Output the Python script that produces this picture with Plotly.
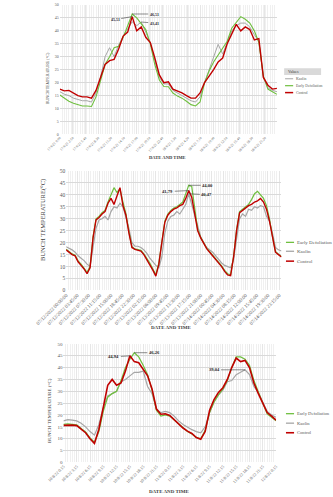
import pandas as pd
import plotly.graph_objects as go

# ---------------- DATA ----------------
# Chart 1: hourly values from 17/6/21 0:00
c1_start = "2021-06-17 00:00"
c1_kaolin = [16.5, 15.5, 15.0, 14.0, 13.5, 13.0, 13.0, 12.5, 16.0, 22.0, 30.0, 33.5, 30.0, 34.5, 38.0, 40.5,
             43.5, 42.0, 43.41, 39.5, 35.5, 28.5, 22.0, 19.5, 19.5, 17.0, 16.0, 15.0, 14.0, 13.0, 12.5, 14.5,
             20.0, 25.0, 29.5, 34.8, 31.0, 35.5, 40.0, 42.0, 43.0, 43.0, 41.5, 38.5, 36.0, 22.0, 18.0, 17.0, 16.5]
c1_early = [15.2, 14.0, 12.8, 12.0, 11.5, 11.0, 11.0, 10.8, 14.5, 21.0, 27.0, 30.0, 33.5, 34.0, 37.5, 42.0,
            46.51, 45.0, 42.5, 40.5, 35.0, 27.0, 21.0, 18.5, 18.4, 16.0, 14.8, 14.0, 12.8, 11.5, 11.0, 12.5,
            20.0, 24.5, 28.0, 30.5, 33.0, 36.0, 41.0, 43.5, 45.5, 44.5, 43.0, 40.0, 35.5, 22.5, 17.5, 16.5, 15.5]
c1_control = [17.5, 16.8, 17.0, 16.0, 15.0, 14.5, 14.5, 14.0, 17.0, 22.0, 27.0, 28.5, 29.0, 33.0, 38.0, 39.5,
              45.51, 40.0, 41.5, 37.5, 35.5, 29.5, 23.0, 20.0, 20.3, 17.5, 16.8, 16.0, 15.0, 14.0, 14.0, 16.0,
              20.0, 22.5, 25.0, 28.0, 29.5, 35.0, 39.0, 42.5, 40.0, 41.5, 40.5, 36.5, 37.0, 22.0, 19.0, 17.5, 17.8]

# Chart 2: hourly values from 07/12/2022 00:00
c2_start = "2022-07-12 00:00"
c2_early = [17.3, 16.3, 15.3, 14.8, 12.4, 11.0, 9.5, 7.6, 10.0, 22.5, 30.0, 31.0, 32.5, 33.5, 37.0, 40.0,
            43.0, 41.0, 42.5, 37.0, 32.0, 24.5, 18.3, 17.4, 17.2, 16.8, 15.3, 13.4, 11.5, 9.0, 6.6, 11.5,
            20.5, 29.0, 32.0, 33.5, 34.5, 35.0, 36.0, 37.0, 40.5, 44.0, 43.5, 35.0, 25.5, 22.2, 19.7, 17.7,
            16.2, 14.8, 13.3, 11.8, 10.3, 8.4, 7.0, 6.6, 14.3, 25.5, 33.0, 34.0, 35.0, 36.0, 38.0, 40.5,
            41.5, 40.0, 38.5, 35.5, 30.0, 22.5, 16.3, 15.2, 14.2]
c2_kaolin = [18.3, 17.8, 17.0, 16.0, 14.5, 13.5, 12.5, 11.0, 10.0, 18.0, 26.0, 29.5, 30.0, 31.0, 29.5, 33.0,
             35.0, 34.5, 36.5, 35.0, 31.0, 26.0, 20.0, 18.5, 18.5, 18.0, 17.0, 15.5, 13.5, 12.0, 10.5, 9.5,
             14.0, 24.0, 29.0, 31.0, 31.5, 33.0, 32.0, 34.0, 36.0, 40.47, 36.0, 31.0, 26.0, 22.5, 20.0, 18.0,
             17.0, 16.0, 14.5, 13.0, 11.5, 10.5, 10.0, 9.5, 13.0, 22.0, 30.0, 32.0, 31.0, 34.0, 33.5, 35.0,
             34.5, 35.5, 35.0, 31.0, 29.0, 24.0, 18.0, 17.0, 16.5]
c2_control = [17.0, 16.0, 15.0, 14.5, 12.0, 10.5, 9.0, 7.0, 9.5, 22.0, 29.5, 30.5, 32.0, 33.0, 36.5, 38.5,
              36.0, 39.5, 43.0, 35.5, 31.5, 24.0, 18.0, 17.2, 17.0, 16.5, 15.0, 13.0, 11.0, 8.5, 6.0, 11.0,
              20.0, 28.5, 31.5, 33.0, 34.0, 34.5, 35.5, 36.0, 38.5, 41.79, 39.0, 32.0, 25.0, 22.0, 19.5, 17.5,
              16.0, 14.5, 13.0, 11.5, 10.0, 8.0, 6.5, 6.2, 14.0, 25.0, 32.5, 33.5, 34.5, 35.5, 36.0, 37.0,
              37.5, 38.5, 37.0, 34.0, 29.0, 22.0, 16.0, 15.0, 14.0]

# Chart 3: hourly values from 10/8/22 0:15
c3_start = "2022-08-10 00:15"
c3_early = [16.0, 16.2, 16.0, 15.8, 14.3, 12.8, 10.3, 8.5, 13.0, 21.5, 27.5, 29.0, 30.0, 34.5, 40.0, 43.5,
            46.26, 44.5, 41.0, 37.0, 30.5, 22.0, 19.5, 20.0, 19.5, 17.8, 16.2, 14.3, 13.0, 12.0, 10.5, 10.0,
            13.5, 21.0, 25.5, 28.5, 31.0, 34.5, 40.0, 44.5, 44.5, 43.5, 41.0, 34.5, 29.5, 25.0, 20.5, 19.0, 17.5]
c3_kaolin = [17.5, 18.0, 17.8, 17.5, 16.5, 15.0, 13.0, 11.5, 16.0, 23.0, 28.0, 29.0, 30.0, 34.0, 35.0, 36.5,
             38.0, 38.0, 38.5, 32.0, 29.0, 22.5, 21.0, 21.5, 21.0, 19.5, 17.5, 16.0, 14.8, 13.8, 13.0, 12.5,
             15.0, 21.0, 25.5, 28.5, 30.5, 34.0, 34.5, 37.0, 38.0, 39.04, 37.0, 32.0, 29.5, 25.5, 21.5, 20.0, 19.0]
c3_control = [15.6, 15.8, 15.7, 15.5, 14.0, 12.5, 10.0, 8.0, 14.0, 24.0, 32.5, 35.0, 32.5, 33.5, 38.5, 44.94,
              42.5, 42.0, 39.5, 36.5, 31.0, 22.5, 20.3, 20.5, 19.8, 18.0, 16.5, 14.5, 13.2, 12.2, 10.5, 9.8,
              13.0, 22.0, 26.5, 29.5, 31.5, 35.0, 40.0, 44.0, 42.5, 43.0, 40.0, 33.5, 29.0, 25.0, 21.0, 19.5, 17.8]

series_names = ["Early Defoliation", "Kaolin", "Control"]
c1_legend = ["Kaolin", "Early Defoliation", "Control"]
y_titles = ["BUNCH TEMPERATURE (°C)", "BUNCH TEMPERATURE(°C)", "BUNCH TEMPERATURE (°C)"]
x_title = "DATE AND TIME"

# ---------------- STYLE ----------------
GREEN = "#6fbf3f"
GRAY = "#a6a6a6"
RED = "#c00000"
FONT = "Liberation Serif"
TXT = "#595959"
W, H = 333, 497


def px(xp):
    return xp / W


def py(yp):
    return 1 - yp / H


fig = go.Figure()


def times(start, vals):
    return pd.date_range(start, periods=len(vals), freq="h")


t1 = times(c1_start, c1_control)
fig.add_trace(go.Scatter(x=t1, y=c1_kaolin, name="Kaolin", mode="lines", line=dict(color=GRAY, width=1), xaxis="x", yaxis="y"))
fig.add_trace(go.Scatter(x=t1, y=c1_early, name="Early Defoliation", mode="lines", line=dict(color=GREEN, width=1.1), xaxis="x", yaxis="y"))
fig.add_trace(go.Scatter(x=t1, y=c1_control, name="Control", mode="lines", line=dict(color=RED, width=1.4), xaxis="x", yaxis="y"))

t2 = times(c2_start, c2_control)
fig.add_trace(go.Scatter(x=t2, y=c2_kaolin, name="Kaolin", mode="lines", line=dict(color=GRAY, width=1.2), xaxis="x2", yaxis="y2"))
fig.add_trace(go.Scatter(x=t2, y=c2_early, name="Early Defoliation", mode="lines", line=dict(color=GREEN, width=1.2), xaxis="x2", yaxis="y2"))
fig.add_trace(go.Scatter(x=t2, y=c2_control, name="Control", mode="lines", line=dict(color=RED, width=1.4), xaxis="x2", yaxis="y2"))

t3 = times(c3_start, c3_control)
fig.add_trace(go.Scatter(x=t3, y=c3_kaolin, name="Kaolin", mode="lines", line=dict(color=GRAY, width=1.2), xaxis="x3", yaxis="y3"))
fig.add_trace(go.Scatter(x=t3, y=c3_early, name="Early Defoliation", mode="lines", line=dict(color=GREEN, width=1.2), xaxis="x3", yaxis="y3"))
fig.add_trace(go.Scatter(x=t3, y=c3_control, name="Control", mode="lines", line=dict(color=RED, width=1.6), xaxis="x3", yaxis="y3"))

H_MS = 3600 * 1000


def xaxis(domain, anchor, start, t, dtick_ms, fmt, minor_ms, fs):
    return dict(domain=domain, anchor=anchor, type="date", range=[t[0], t[-1]],
                tick0=start, dtick=dtick_ms, tickformat=fmt, tickangle=-45,
                tickfont=dict(family=FONT, size=fs, color=TXT),
                showgrid=True, gridcolor="#e6e6e6", gridwidth=0.5,
                minor=dict(dtick=minor_ms, tick0=start, showgrid=True, gridcolor="#f0f0f0", gridwidth=0.5),
                showline=False, zeroline=False, ticks="", ticklen=0)


def yaxis(domain, anchor, fs):
    return dict(domain=domain, anchor=anchor, range=[0, 50], dtick=5, showgrid=True,
                gridcolor="#d9d9d9", gridwidth=0.6, zeroline=False, showline=False,
                tickfont=dict(family=FONT, size=fs, color=TXT), ticks="")


fig.update_layout(
    width=W, height=H, autosize=False, margin=dict(l=0, r=0, t=0, b=0),
    paper_bgcolor="white", plot_bgcolor="white", showlegend=False,
    xaxis=xaxis([px(32), px(273)], "y", c1_start, t1, 170 * 60 * 1000, "%-d/%-m/%y %-H:%M", 30 * 60 * 1000, 3.5),
    yaxis=yaxis([py(133), py(2)], "x", 4),
    xaxis2=xaxis([px(39), px(278)], "y2", c2_start, t2, int(3.75 * H_MS), "%m/%d/%Y %H:%M:%S", 45 * 60 * 1000, 5),
    yaxis2=yaxis([py(291), py(170)], "x2", 5.5),
    xaxis3=xaxis([px(36), px(272)], "y3", c3_start, t3, 3 * H_MS, "%-d/%-m/%y %-H:%M", 30 * 60 * 1000, 4.2),
    yaxis3=yaxis([py(465), py(345)], "x3", 5),
)

ann = []
shapes = []

for (xc, yc, txt, fs) in [(18, 76, y_titles[0], 4), (14, 220, y_titles[1], 6.5), (20, 413, y_titles[2], 5)]:
    ann.append(dict(xref="paper", yref="paper", x=px(xc), y=py(yc), text=txt, textangle=-90, showarrow=False,
                    font=dict(family=FONT, size=fs, color="#404040"), xanchor="center", yanchor="middle"))
for (xc, yc, fs) in [(152, 156, 4.6), (155, 328, 5), (153, 494, 5)]:
    ann.append(dict(xref="paper", yref="paper", x=px(xc), y=py(yc), text="<b>" + x_title + "</b>", showarrow=False,
                    font=dict(family=FONT, size=fs, color="#404040"), xanchor="center", yanchor="middle"))


def legend(names, colors, widths, x0, ys, fs):
    for n, c, w, yy in zip(names, colors, widths, ys):
        shapes.append(dict(type="line", xref="paper", yref="paper", x0=px(x0), x1=px(x0 + 9), y0=py(yy), y1=py(yy),
                           line=dict(color=c, width=w)))
        ann.append(dict(xref="paper", yref="paper", x=px(x0 + 10), y=py(yy), text=n, showarrow=False,
                        xanchor="left", yanchor="middle", font=dict(family=FONT, size=fs, color=TXT)))


shapes.append(dict(type="rect", xref="paper", yref="paper", x0=px(281), x1=px(322), y0=py(73), y1=py(66),
                   fillcolor="#d9d9d9", line=dict(width=0)))
ann.append(dict(xref="paper", yref="paper", x=px(283), y=py(69.5), text="Values", showarrow=False,
                xanchor="left", yanchor="middle", font=dict(family=FONT, size=4, color="#404040")))
legend(c1_legend, [GRAY, GREEN, RED], [1, 1.2, 1.5], 282, [76.7, 83.7, 90.7], 3.8)
legend(series_names, [GREEN, GRAY, RED], [1.3, 1.3, 1.5], 283, [242.3, 251.3, 261.3], 5)
legend(series_names, [GREEN, GRAY, RED], [1.3, 1.3, 1.6], 283, [415.7, 425.3, 435], 4.6)


def fmt(v):
    return f"{v:.2f}".replace(".", ",")


def label(xa, ya, t, vals, i, ax, ay, fs):
    ann.append(dict(xref=xa, yref=ya, x=t[i], y=vals[i], text="<b>" + fmt(vals[i]) + "</b>", showarrow=True,
                    arrowhead=0, arrowwidth=0.6, arrowcolor="#404040", ax=ax, ay=ay,
                    font=dict(family=FONT, size=fs, color="#262626")))


label("x", "y", t1, c1_early, 16, 22, 0, 4)
label("x", "y", t1, c1_control, 16, -17, 3, 4)
label("x", "y", t1, c1_kaolin, 18, 13, 1, 4)
label("x2", "y2", t2, c2_early, 41, 19, 0, 4.6)
label("x2", "y2", t2, c2_control, 41, -21, 1, 4.6)
label("x2", "y2", t2, c2_kaolin, 41, 18, 1, 4.6)
label("x3", "y3", t3, c3_control, 15, -16, 1, 4.6)
label("x3", "y3", t3, c3_early, 16, 20, 0, 4.6)
label("x3", "y3", t3, c3_kaolin, 41, -31, 0, 4.6)

fig.update_layout(annotations=ann, shapes=shapes)
fig.write_html("out.html")
